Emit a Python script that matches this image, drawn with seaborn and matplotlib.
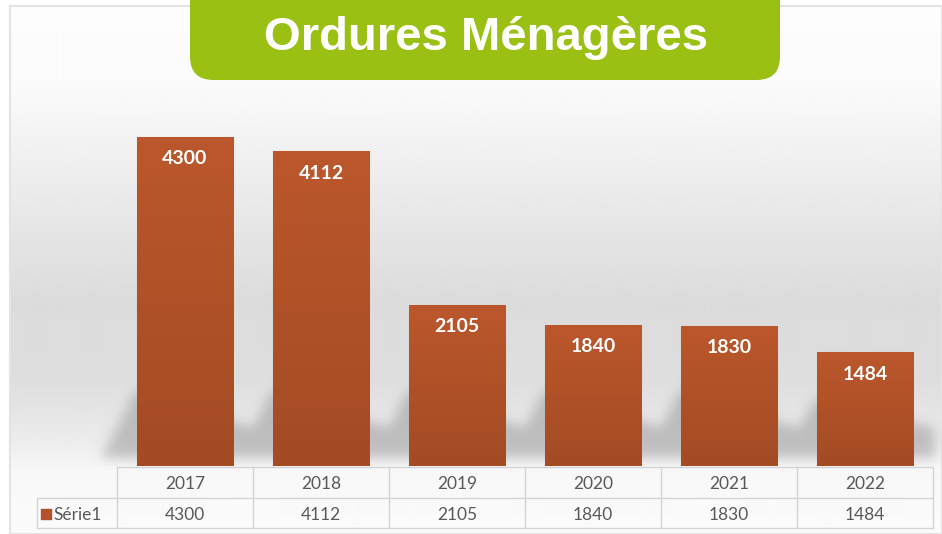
import numpy as np
import pandas as pd
import matplotlib
matplotlib.use("Agg")
import matplotlib.pyplot as plt
import seaborn as sns
from matplotlib.patches import FancyBboxPatch
from matplotlib.path import Path
from matplotlib.colors import LinearSegmentedColormap

# --- data -------------------------------------------------------------
years = ["2017", "2018", "2019", "2020", "2021", "2022"]
tonnages = [4300, 4112, 2105, 1840, 1830, 1484]
series_name = "Série1"
title = "Ordures Ménagères"

# --- figure geometry (pixels) ----------------------------------------
W, H, DPI = 942, 534, 100
BAR_TOP_COLOR = "#bb572c"
BAR_BOTTOM_COLOR = "#a44b24"
BAR_COLOR = "#b3522a"
GREEN = "#9ac013"
TEXT_GREY = "#595959"
GRID_GREY = "#d4d4d4"

sns.set_theme(style="white")
plt.rcParams["font.family"] = ["Lato", "DejaVu Sans"]

fig = plt.figure(figsize=(W / DPI, H / DPI), dpi=DPI)
fig.patch.set_facecolor("white")


def fx(px):
    return px / W


def fy(py):
    return 1 - py / H


# --- background panel with vertical grey gradient --------------------
bg = fig.add_axes([fx(10), 0, 1 - fx(10), fy(6)], zorder=0)
stops_y = np.array([6, 80, 150, 220, 300, 380, 440, 470, 534])
stops_v = np.array([0.99, 0.985, 0.945, 0.905, 0.862, 0.87, 0.925, 0.97, 0.985])
rows = np.arange(6, H)
col = np.interp(rows, stops_y, stops_v)[:, None]
bg.imshow(np.repeat(col, 4, axis=1), cmap="gray", vmin=0, vmax=1,
          aspect="auto", extent=(0, 1, 0, 1), interpolation="bilinear")
bg.set_xlim(0, 1)
bg.set_ylim(0, 1)
bg.set_xticks([])
bg.set_yticks([])
for s in bg.spines.values():
    s.set_color("#e3e3e3")
    s.set_linewidth(1.5)

# --- bars --------------------------------------------------------------
BASE_PX, TOP_PX = 466, 83.5
ax = fig.add_axes([fx(117), fy(BASE_PX), fx(933) - fx(117), fy(TOP_PX) - fy(BASE_PX)],
                  zorder=2)
ax.patch.set_alpha(0)
df = pd.DataFrame({"Année": years, "Tonnage": tonnages})
sns.barplot(data=df, x="Année", y="Tonnage", color=BAR_COLOR, saturation=1,
            width=0.71, ax=ax, zorder=3, edgecolor="#e9a27f", linewidth=0.8)
ax.set_xlim(-0.5, 5.5)
ax.set_ylim(0, 5000)
ax.axis("off")

grad = LinearSegmentedColormap.from_list("bar", [BAR_BOTTOM_COLOR, BAR_TOP_COLOR])
for patch in ax.patches:
    x0, y0 = patch.get_x(), patch.get_y()
    w, h = patch.get_width(), patch.get_height()
    im = ax.imshow(np.linspace(0, 1, 64)[:, None], cmap=grad, origin="lower",
                   aspect="auto", extent=(x0, x0 + w, y0, y0 + h), zorder=3.5)
    im.set_clip_path(patch)

for i, v in enumerate(tonnages):
    ax.annotate(f"{v}", xy=(i, v), xytext=(0, -9.5), textcoords="offset points",
                ha="center", va="top", color="white", fontsize=14,
                fontweight="bold", zorder=5)

# --- soft shadows behind the bars -------------------------------------
sh = fig.add_axes([0, 0, 1, 1], zorder=1)
sh.patch.set_alpha(0)
sh.set_xlim(0, W)
sh.set_ylim(H, 0)
sh.axis("off")

yy, xx = np.mgrid[0:H, 0:W]
pts = np.column_stack([xx.ravel() + 0.5, yy.ravel() + 0.5])
mask = np.zeros(H * W)
for patch in ax.patches:
    (l, b), (r, t) = ax.transData.transform(
        [(patch.get_x(), 0), (patch.get_x() + patch.get_width(), patch.get_height())])
    L, R = l, r
    B = H - b
    T = H - t
    top = B - min(76, 0.6 * (B - T))
    poly = [(L - 36, B - 8), (R + 22, B - 8), (R + 22, B - 38), (L, top)]
    mask = np.maximum(mask, Path(poly).contains_points(pts).astype(float))
mask = mask.reshape(H, W)


def blur(a, sigma):
    r = int(3 * sigma)
    k = np.exp(-0.5 * (np.arange(-r, r + 1) / sigma) ** 2)
    k /= k.sum()
    a = np.apply_along_axis(lambda m: np.convolve(m, k, mode="same"), 0, a)
    a = np.apply_along_axis(lambda m: np.convolve(m, k, mode="same"), 1, a)
    return a


mask = blur(mask, 6) * (yy < BASE_PX)
rgba = np.zeros((H, W, 4))
rgba[..., :3] = 0.5
rgba[..., 3] = mask * 0.42
sh.imshow(rgba, extent=(0, W, H, 0), aspect="auto", interpolation="bilinear")

# --- data table under the bars ----------------------------------------
COL_W = 136
LABEL_W = 80
tb = fig.add_axes([fx(37), fy(528), fx(933) - fx(37), fy(467) - fy(528)], zorder=2)
tb.patch.set_alpha(0)
xl = -0.5 - LABEL_W / COL_W
tb.set_xlim(xl, 5.5)
tb.set_ylim(0, 2)
tb.axis("off")
lk = dict(color=GRID_GREY, lw=1.0, clip_on=False)
tb.plot([-0.5, 5.5], [2, 2], **lk)
tb.plot([xl, 5.5], [1, 1], **lk)
tb.plot([xl, 5.5], [0, 0], **lk)
for i in range(len(years) + 1):
    tb.plot([-0.5 + i, -0.5 + i], [0, 2], **lk)
tb.plot([xl, xl], [0, 1], **lk)

for i, (yr, v) in enumerate(zip(years, tonnages)):
    tb.text(i, 1.43, yr, ha="center", va="center", fontsize=12.5, color=TEXT_GREY)
    tb.text(i, 0.44, f"{v}", ha="center", va="center", fontsize=12.5, color=TEXT_GREY)


def tx(px):
    return xl + (px - 37) / COL_W


tb.scatter([tx(45.5)], [0.47], marker="s", s=46, color=BAR_COLOR, clip_on=False)
tb.text(tx(53), 0.44, series_name, ha="left", va="center", fontsize=12.5,
        color=TEXT_GREY)

# --- title banner ------------------------------------------------------
banner = FancyBboxPatch((fx(190), fy(80)), fx(780) - fx(190), 0.3,
                        boxstyle="round,pad=0,rounding_size=0.025",
                        transform=fig.transFigure, facecolor=GREEN,
                        edgecolor="none", zorder=5, mutation_aspect=W / H)
fig.patches.append(banner)
fig.text(fx(486), fy(50), title, ha="center", va="baseline", color="white",
         fontsize=34, fontweight="bold", family=["Liberation Sans", "DejaVu Sans"],
         zorder=6)

fig.savefig("out.png", dpi=DPI)
